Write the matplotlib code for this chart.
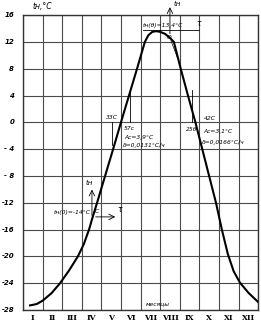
import numpy as np
import matplotlib
matplotlib.use('Agg')
import matplotlib.pyplot as plt

# годовой ход температуры наружного воздуха
month_pos = [0.36, 0.7, 1.0, 1.45, 1.89, 2.35, 2.8, 3.1, 3.37, 3.57, 3.78,
             4.2, 4.6, 5.0, 5.4, 5.8, 6.22, 6.4, 6.6, 6.8, 7.0, 7.25, 7.5,
             7.7, 8.05, 8.42, 8.8, 9.15, 9.5, 9.85, 10.15, 10.45, 10.75,
             11.07, 11.5, 12.0]
t_air = [-27.3, -27.1, -26.6, -25.5, -24.0, -22.1, -20.0, -18.2, -16.0, -14.0,
         -12.0, -7.9, -4.0, 0.0, 3.9, 7.8, 12.0, 13.0, 13.5, 13.6, 13.5, 13.2,
         12.6, 12.0, 8.0, 4.0, 0.0, -4.0, -8.0, -12.0, -16.0, -19.6, -22.2,
         -23.9, -25.4, -26.8]
months = ['I', 'II', 'III', 'IV', 'V', 'VI', 'VII', 'VIII', 'IX', 'X', 'XI', 'XII']
yticks = [16, 12, 8, 4, 0, -4, -8, -12, -16, -20, -24, -28]
ylabels = ['16', '12', '8', '4', '0', '- 4', '- 8', '-12', '-16', '-20', '-24', '-28']

fig = plt.figure(figsize=(2.61, 3.21), dpi=100)
ax = fig.add_axes([0.088, 0.034, 0.901, 0.919])

ax.set_xlim(0, 12)
ax.set_ylim(-28, 16)
for i in range(13):
    ax.axvline(i, color='#4a4a4a', lw=0.8, zorder=1)
for v in yticks:
    ax.axhline(v, color='#4a4a4a', lw=0.8, zorder=1)
for s in ax.spines.values():
    s.set_color('#333333')
    s.set_linewidth(1.0)

ax.set_xticks([])
ax.set_yticks([])
for v, lab in zip(yticks, ylabels):
    ax.text(-0.45, v, lab, ha='right', va='center', fontsize=5,
            style='italic', fontweight='bold', clip_on=False)
for i, m in enumerate(months):
    ax.text(i + 0.5, -28.6, m, ha='center', va='top', fontsize=5.5,
            family='DejaVu Serif', fontweight='bold', clip_on=False)

ax.plot(month_pos, t_air, color='black', lw=1.5, zorder=3,
        solid_joinstyle='round')

fs = 4.3
kw = dict(fontsize=fs, style='italic', clip_on=False, zorder=4)
fig.text(33 / 261, 1 - 7 / 321, 'tн,°C', fontsize=5.5, style='italic', va='center')
ax.text(6.9, -27.5, 'месяцы', ha='center', va='bottom', **kw)

# максимум
ax.plot([6.1, 9.0], [13.8, 13.8], color='black', lw=0.6, zorder=4)
ax.annotate('', xy=(7.5, 17.6), xytext=(7.5, 12.8),
            arrowprops=dict(arrowstyle='->', lw=0.6, color='black'),
            annotation_clip=False)
ax.text(7.7, 17.6, 'tн', fontsize=5, style='italic', va='center', clip_on=False)
ax.text(6.1, 14.0, 'tн(θ)=13,4°C', ha='left', va='bottom', **kw)
ax.text(8.85, 14.0, 'τ', ha='left', va='bottom', fontsize=5.5, style='italic')
ax.text(7.45, 12.7, 'O', ha='center', va='center', **kw)
ax.plot([7.55, 7.9], [12.2, 9.5], color='black', lw=0.5, zorder=4)

# весна
ax.plot([4.54, 4.54], [0.0, -3.4], color='black', lw=0.6, zorder=4)
ax.plot([5.46, 5.46], [4.9, 0.0], color='black', lw=0.6, zorder=4)
ax.text(4.55, 0.3, '33C', ha='center', va='bottom', **kw)
ax.text(5.15, -0.9, '57c', ha='left', va='center', **kw)
ax.text(5.15, -2.2, 'Ac=3,9°C', ha='left', va='center', **kw)
ax.text(5.1, -3.5, 'δ=0,0131°C/ч', ha='left', va='center', **kw)

# осень
ax.plot([8.6, 8.6], [4.9, 0.0], color='black', lw=0.6, zorder=4)
ax.text(8.3, -1.1, '25θ', ha='left', va='center', **kw)
ax.text(9.25, 0.6, '42C', ha='left', va='center', **kw)
ax.text(9.2, -1.4, 'Ac=3,1°C', ha='left', va='center', **kw)
ax.text(9.15, -3.0, 'δ=0,0166°C/ч', ha='left', va='center', **kw)

# зима
ax.annotate('', xy=(3.52, -9.6), xytext=(3.52, -14.3),
            arrowprops=dict(arrowstyle='->', lw=0.6, color='black'))
ax.annotate('', xy=(4.85, -14.1), xytext=(3.57, -14.1),
            arrowprops=dict(arrowstyle='->', lw=0.6, color='black'))
ax.text(3.4, -9.0, 'tн', ha='center', va='center', fontsize=5, style='italic')
ax.text(3.45, -13.4, 'tн(0)=-14°C', ha='right', va='center', **kw)
ax.text(3.75, -13.3, 'C', ha='center', va='center', **kw)
ax.text(4.8, -13.0, 'τ', ha='left', va='center', fontsize=5.5, style='italic')

fig.savefig('out.png', dpi=100)
